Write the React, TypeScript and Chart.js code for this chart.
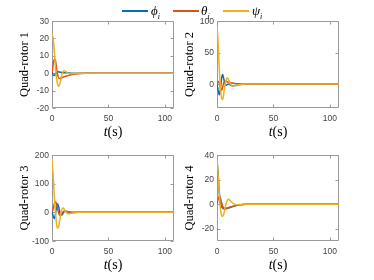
import React, { useEffect, useRef, useState } from 'react';
import { Chart, registerables } from 'chart.js';
Chart.register(...registerables);

// time samples (s)
const T = [0, 1, 2, 3, 4, 5, 6, 7, 8, 9, 10, 11, 12, 14, 16, 18, 20, 23, 26, 30, 40, 60, 108];

const q1Phi = [0, -1, -1.3, -0.6, 0.2, 0.7, 0.8, 0.6, 0.5, 0.4, 0.3, 0.3, 0.2, 0.1, 0.05, 0, 0, 0, 0, 0, 0, 0, 0];
const q1Theta = [0, 5, 8, 7.5, 3, -1, -2.8, -3, -2.8, -2.5, -2.2, -2, -1.8, -1.4, -1, -0.7, -0.5, -0.3, -0.15, -0.05, 0, 0, 0];
const q1Psi = [23, 20, 13, 4, -3, -6.5, -7.5, -6, -3, -0.5, 1.2, 1.4, 1, 0, -0.3, -0.2, -0.1, 0, 0, 0, 0, 0, 0];

const q2Phi = [0, -10, -17, -8, 8, 15, 8, 1, -2, -1, 0, -0.5, -1.5, -3, -2.5, -1.5, -0.8, -0.3, -0.1, 0, 0, 0, 0];
const q2Theta = [0, 4, 2, -6, -10, -5, 2, 5, 4.5, 3.5, 3, 2.5, 2, 1.5, 1, 0.6, 0.3, 0.1, 0, 0, 0, 0, 0];
const q2Psi = [92, 65, 25, -5, -22, -25, -15, -2, 6, 10, 8, 4, 0, -3, -2.5, -1.5, -0.7, -0.2, 0, 0, 0, 0, 0];

const q3Phi = [0, -12, -22, -8, 20, 30, 18, -2, -10, -8, -2, 3, 4, 2, 0, -1, -0.5, 0, 0, 0, 0, 0, 0];
const q3Theta = [0, 12, 28, 38, 30, 12, -4, -10, -8, -2, 3, 5, 4, 2, 1, 0.5, 0.2, 0, 0, 0, 0, 0, 0];
const q3Psi = [185, 130, 60, 5, -40, -55, -48, -25, 0, 13, 15, 10, 3, -5, -4, -2, -1, 0, 0, 0, 0, 0, 0];

const q4Phi = [36, 24, 10, 1, -2, -3.2, -3.8, -4, -3.8, -3.5, -3.2, -2.9, -2.6, -2, -1.4, -0.9, -0.6, -0.3, -0.1, 0, 0, 0, 0];
const q4Theta = [0, 4, 6.5, 5, 1.5, -1.5, -3, -3.5, -3.4, -3.2, -2.9, -2.6, -2.3, -1.7, -1.2, -0.8, -0.5, -0.2, -0.1, 0, 0, 0, 0];
const q4Psi = [37, 24, 8, -3, -9, -10, -8, -4, 0, 3, 4, 3.5, 2.5, 0.8, -0.2, -0.4, -0.3, -0.1, 0, 0, 0, 0, 0];

const xTicks = [0, 50, 100];
const q1Ticks = [-20, -10, 0, 10, 20, 30];
const q2Ticks = [0, 50, 100];
const q3Ticks = [-100, 0, 100, 200];
const q4Ticks = [-20, 0, 20, 40];

const BLUE = '#0072BD';
const RED = '#D95319';
const YELLOW = '#EDB120';

const SANS = '"Liberation Sans", Arial, sans-serif';
const TICK_FONT = { family: SANS, size: 8.5 };
const TICK_COLOR = '#444444';
const SERIF = '"Liberation Serif", "Times New Roman", serif';

const framePlugin = {
  id: 'frame',
  beforeDatasetsDraw(chart: any) {
    const { ctx, chartArea } = chart;
    const l = Math.round(chartArea.left) + 0.5;
    const t = Math.round(chartArea.top) + 0.5;
    const r = Math.round(chartArea.right) - 0.5;
    const b = Math.round(chartArea.bottom) - 0.5;
    ctx.save();
    ctx.strokeStyle = '#9a9a9a';
    ctx.lineWidth = 1;
    ctx.beginPath();
    ctx.moveTo(l, t); ctx.lineTo(r, t); ctx.lineTo(r, b); ctx.lineTo(l, b); ctx.closePath();
    const xs = chart.scales.x;
    const ys = chart.scales.y;
    xs.ticks.forEach((tk: any) => {
      const px = Math.round(xs.getPixelForValue(tk.value)) + 0.5;
      ctx.moveTo(px, b); ctx.lineTo(px, b - 3);
      ctx.moveTo(px, t); ctx.lineTo(px, t + 3);
    });
    ys.ticks.forEach((tk: any) => {
      const py = Math.round(ys.getPixelForValue(tk.value)) + 0.5;
      ctx.moveTo(l, py); ctx.lineTo(l + 3, py);
      ctx.moveTo(r, py); ctx.lineTo(r - 3, py);
    });
    ctx.stroke();
    ctx.restore();
  },
};

type Panel = {
  title: string;
  phi: number[];
  theta: number[];
  psi: number[];
  min: number;
  max: number;
  ticks: number[];
  left: number;
  top: number;
  width: number;
  height: number;
  padRight: number;
  xHeight: number;
  yWidth: number;
  titlePad: number;
};

const PANELS: Panel[] = [
  { title: 'Quad-rotor 1', phi: q1Phi, theta: q1Theta, psi: q1Psi, min: -20, max: 30, ticks: q1Ticks, left: 0, top: 0, width: 180, height: 134, padRight: 6, xHeight: 26, yWidth: 52, titlePad: 17.5 },
  { title: 'Quad-rotor 2', phi: q2Phi, theta: q2Theta, psi: q2Psi, min: -38, max: 100, ticks: q2Ticks, left: 180, top: 0, width: 194, height: 134, padRight: 35, xHeight: 26, yWidth: 37, titlePad: 2.5 },
  { title: 'Quad-rotor 3', phi: q3Phi, theta: q3Theta, psi: q3Psi, min: -100, max: 200, ticks: q3Ticks, left: 0, top: 134, width: 180, height: 146, padRight: 6, xHeight: 39, yWidth: 52, titlePad: 17.5 },
  { title: 'Quad-rotor 4', phi: q4Phi, theta: q4Theta, psi: q4Psi, min: -30, max: 40, ticks: q4Ticks, left: 180, top: 134, width: 194, height: 146, padRight: 35, xHeight: 39, yWidth: 37, titlePad: 2.5 },
];

function toPts(vals: number[]) {
  return T.map((t, i) => ({ x: t, y: vals[i] }));
}

type TickLabel = { text: string; x: number; y: number };

function PanelChart({ p }: { p: Panel }) {
  const ref = useRef<HTMLCanvasElement>(null);
  const [labels, setLabels] = useState<TickLabel[]>([]);
  useEffect(() => {
    if (!ref.current) return;
    const chart = new Chart(ref.current, {
      type: 'line',
      data: {
        datasets: [
          { label: 'ψ', data: toPts(p.psi), borderColor: YELLOW, order: 0 },
          { label: 'θ', data: toPts(p.theta), borderColor: RED, order: 1 },
          { label: 'ϕ', data: toPts(p.phi), borderColor: BLUE, order: 2 },
        ],
      },
      options: {
        animation: false,
        responsive: false,
        devicePixelRatio: 1,
        layout: { padding: { top: 21, right: p.padRight, left: 0, bottom: 0 } },
        plugins: { legend: { display: false }, tooltip: { enabled: false } },
        elements: {
          point: { radius: 0 },
          line: { borderWidth: 1.5, cubicInterpolationMode: 'monotone', fill: false },
        },
        scales: {
          x: {
            type: 'linear',
            min: 0,
            max: 108,
            afterBuildTicks: (s: any) => { s.ticks = xTicks.map((v) => ({ value: v })); },
            afterFit: (s: any) => { s.height = p.xHeight; },
            grid: { display: false, drawTicks: false },
            border: { display: false },
            ticks: { padding: 6, color: TICK_COLOR, font: TICK_FONT, maxRotation: 0, autoSkip: false },
          },
          y: {
            type: 'linear',
            min: p.min,
            max: p.max,
            afterBuildTicks: (s: any) => { s.ticks = p.ticks.map((v) => ({ value: v })); },
            afterFit: (s: any) => { s.width = p.yWidth; },
            grid: { display: false, drawTicks: false },
            border: { display: false },
            ticks: { display: false },
            title: {
              display: true,
              text: p.title,
              color: '#000',
              font: { family: SERIF, size: 12.5 },
              padding: { top: p.titlePad, bottom: 0 },
            },
          },
        },
      } as any,
      plugins: [framePlugin],
    });
    const ys: any = chart.scales.y;
    const left = chart.chartArea.left;
    setLabels(p.ticks.map((v) => ({ text: String(v), x: left, y: ys.getPixelForValue(v) })));
    return () => chart.destroy();
  }, [p]);
  return (
    <div style={{ position: 'absolute', left: p.left, top: p.top, width: p.width, height: p.height }}>
      <canvas
        ref={ref}
        width={p.width}
        height={p.height}
        style={{ position: 'absolute', left: 0, top: 0, width: p.width, height: p.height }}
      />
      {labels.map((l) => (
        <span
          key={l.text}
          style={{
            position: 'absolute',
            right: p.width - (l.x - 3),
            top: l.y - 5.5,
            fontFamily: SANS,
            fontSize: 8.5,
            lineHeight: '11px',
            color: TICK_COLOR,
            whiteSpace: 'nowrap',
          }}
        >
          {l.text}
        </span>
      ))}
    </div>
  );
}

const xTitleStyle = (cx: number, cy: number): React.CSSProperties => ({
  position: 'absolute',
  left: cx,
  top: cy - 8,
  transform: 'translateX(-50%)',
  fontFamily: SERIF,
  fontSize: 14,
  lineHeight: '16px',
  whiteSpace: 'nowrap',
  color: '#000',
});

const legendText: React.CSSProperties = {
  position: 'absolute',
  top: 3,
  fontFamily: SERIF,
  fontSize: 13,
  lineHeight: '16px',
  fontStyle: 'italic',
  color: '#000',
  whiteSpace: 'nowrap',
};

function LegendLine({ left, color }: { left: number; color: string }) {
  return <div style={{ position: 'absolute', left, top: 10, width: 26, height: 2, backgroundColor: color }} />;
}

export default function App() {
  return (
    <div style={{ position: 'fixed', left: 0, top: 0, width: 374, height: 280, background: '#fff', overflow: 'hidden' }}>
      {PANELS.map((p) => (
        <PanelChart key={p.title} p={p} />
      ))}
      <div style={xTitleStyle(113, 132)}><i>t</i>(s)</div>
      <div style={xTitleStyle(278, 132)}><i>t</i>(s)</div>
      <div style={xTitleStyle(113, 265)}><i>t</i>(s)</div>
      <div style={xTitleStyle(278, 265)}><i>t</i>(s)</div>
      <div style={{ position: 'absolute', left: 117, top: 0, width: 155, height: 18, background: '#fff' }}>
        <LegendLine left={5} color={BLUE} />
        <span style={{ ...legendText, left: 34 }}>ϕ<sub style={{ fontSize: 8 }}>i</sub></span>
        <LegendLine left={56} color={RED} />
        <span style={{ ...legendText, left: 84 }}>θ<sub style={{ fontSize: 8 }}>i</sub></span>
        <LegendLine left={106} color={YELLOW} />
        <span style={{ ...legendText, left: 135 }}>ψ<sub style={{ fontSize: 8 }}>i</sub></span>
      </div>
    </div>
  );
}
